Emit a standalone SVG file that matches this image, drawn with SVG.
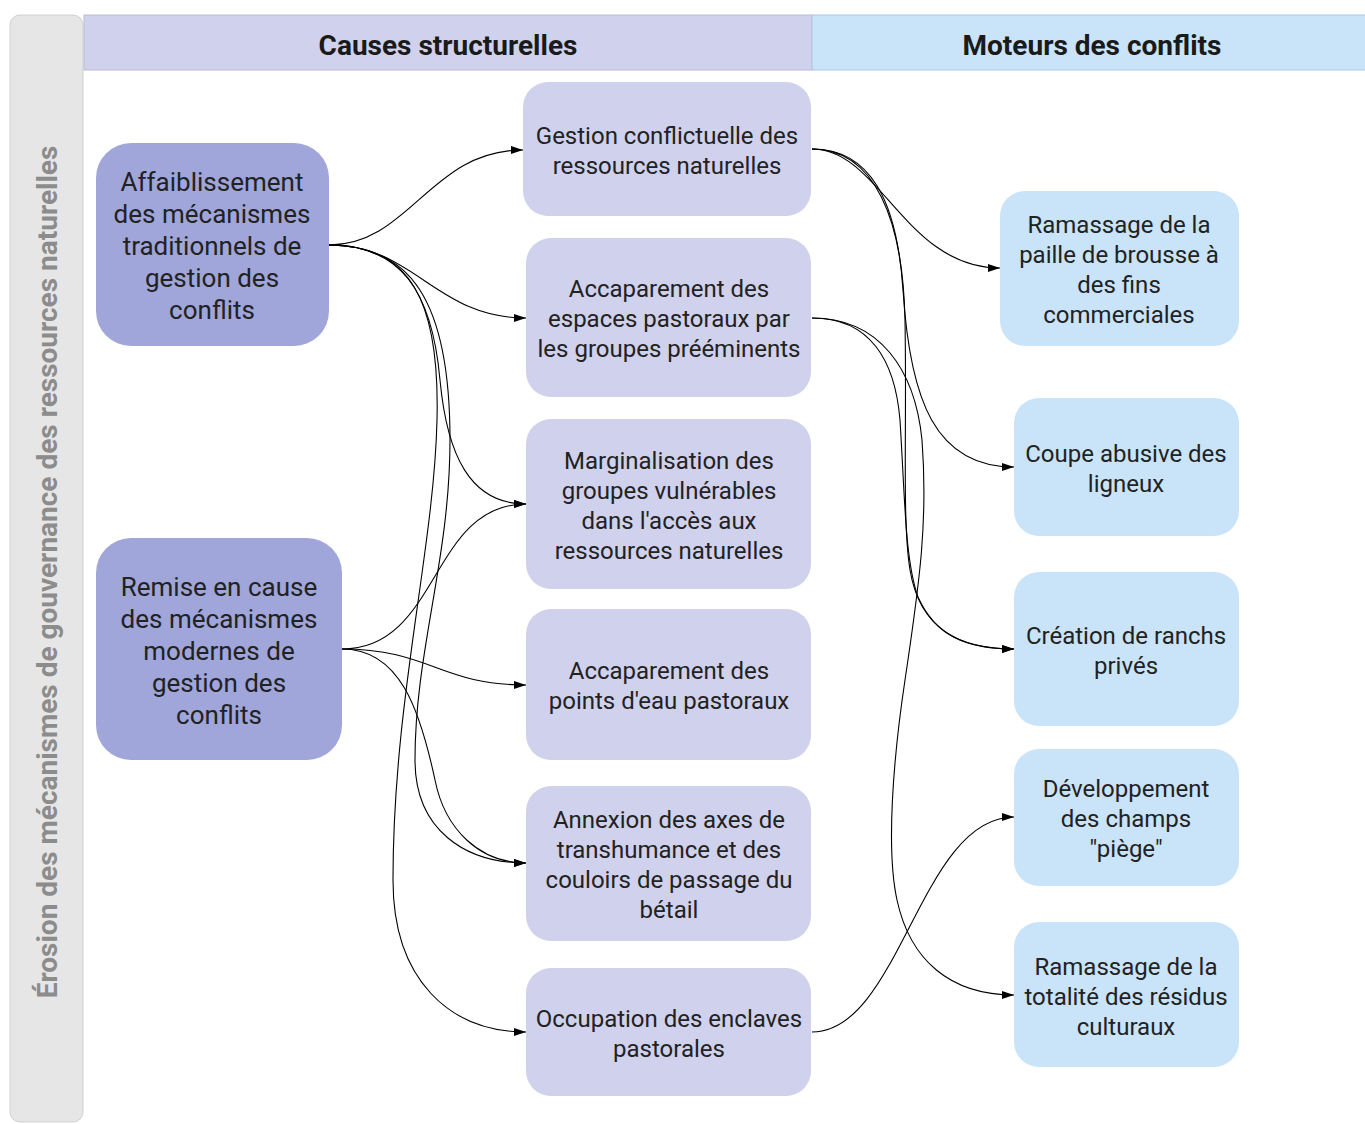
<svg xmlns="http://www.w3.org/2000/svg" width="1365" height="1124" viewBox="0 0 1365 1124">
<defs>
<marker id="arrow" viewBox="0 0 12 8" refX="12" refY="4" markerWidth="12" markerHeight="8" markerUnits="userSpaceOnUse" orient="auto">
<path d="M0,0 L12,4 L0,8 z" fill="#000"/>
</marker>
</defs>
<style>
text{font-family:Roboto,"Liberation Sans",sans-serif;fill:#222;text-anchor:middle}
.hdr{font-size:28px;font-weight:bold;fill:#1a1a1a}
.side{font-size:28px;font-weight:bold;fill:#8c8c8c}
.lt{font-size:26px}
.mt{font-size:24px}
.rt{font-size:24px}
.nl{fill:#a0a6d9}
.nm{fill:#d0d1ec}
.nr{fill:#c9e3f9}
.edge{fill:none;stroke:#000;stroke-width:1.1;marker-end:url(#arrow)}
</style>
<rect x="0" y="0" width="1365" height="1124" fill="#fff"/>
<g id="band">
<rect x="10" y="15" width="73" height="1107" rx="10" fill="#e6e6e6" stroke="#d0d0d0" stroke-width="1"/>
<text class="side" transform="translate(57,572) rotate(-90)">Érosion des mécanismes de gouvernance des ressources naturelles</text>
</g>
<g id="header-causes">
<rect x="84" y="15" width="728" height="55" fill="#d0d1ec" stroke="#b8bbd8" stroke-width="1"/>
<text class="hdr" x="448" y="55">Causes structurelles</text>
</g>
<g id="header-moteurs">
<rect x="812" y="15" width="560" height="55" fill="#c9e3f9" stroke="#aec8de" stroke-width="1"/>
<text class="hdr" x="1092" y="55">Moteurs des conflits</text>
</g>
<g id="edges">
<path class="edge" d="M329,245 C410,245 430,150 523,150"/>
<path class="edge" d="M329,245 C415,245 435,318 526,318"/>
<path class="edge" d="M329,245 C400,245 432,290 440,380 C447,455 470,504 526,504"/>
<path class="edge" d="M329,245 C410,245 450,300 450,440 C450,560 415,650 415,760 C415,830 465,863 526,863"/>
<path class="edge" d="M329,245 C410,245 440,300 437,420 C434,550 393,700 393,880 C393,980 450,1032 526,1032"/>
<path class="edge" d="M342,649 C440,649 430,504 526,504"/>
<path class="edge" d="M342,649 C430,649 440,685 526,685"/>
<path class="edge" d="M342,649 C400,649 420,710 435,780 C445,830 480,863 526,863"/>
<path class="edge" d="M812,149 C880,149 905,268 1000,268"/>
<path class="edge" d="M812,149 C870,149 897,200 903,290 C910,400 935,467 1014,467"/>
<path class="edge" d="M812,149 C875,149 903,220 905,320 C907,430 902,520 910,570 C920,630 960,649 1014,649"/>
<path class="edge" d="M812,318 C870,318 895,360 900,420 C905,500 905,560 918,597 C935,635 965,649 1014,649"/>
<path class="edge" d="M812,318 C880,318 915,370 922,440 C928,520 920,580 905,680 C893,760 886,850 897,900 C910,960 950,995 1014,995"/>
<path class="edge" d="M812,1032 C900,1032 920,817 1014,817"/>
</g>
<g id="n-affaiblissement">
<rect class="nl" x="96" y="143" width="233" height="203" rx="35"/>
<text class="lt" x="212" y="191">Affaiblissement</text>
<text class="lt" x="212" y="223">des mécanismes</text>
<text class="lt" x="212" y="255">traditionnels de</text>
<text class="lt" x="212" y="287">gestion des</text>
<text class="lt" x="212" y="319">conflits</text>
</g>
<g id="n-remise">
<rect class="nl" x="96" y="538" width="246" height="222" rx="35"/>
<text class="lt" x="219" y="596">Remise en cause</text>
<text class="lt" x="219" y="628">des mécanismes</text>
<text class="lt" x="219" y="660">modernes de</text>
<text class="lt" x="219" y="692">gestion des</text>
<text class="lt" x="219" y="724">conflits</text>
</g>
<g id="n-gestion">
<rect class="nm" x="523" y="82" width="288" height="134" rx="25"/>
<text class="mt" x="667" y="144">Gestion conflictuelle des</text>
<text class="mt" x="667" y="174">ressources naturelles</text>
</g>
<g id="n-accaparement-espaces">
<rect class="nm" x="526" y="238" width="285" height="159" rx="25"/>
<text class="mt" x="669" y="297">Accaparement des</text>
<text class="mt" x="669" y="327">espaces pastoraux par</text>
<text class="mt" x="669" y="357">les groupes prééminents</text>
</g>
<g id="n-marginalisation">
<rect class="nm" x="526" y="419" width="285" height="170" rx="25"/>
<text class="mt" x="669" y="469">Marginalisation des</text>
<text class="mt" x="669" y="499">groupes vulnérables</text>
<text class="mt" x="669" y="529">dans l'accès aux</text>
<text class="mt" x="669" y="559">ressources naturelles</text>
</g>
<g id="n-points-eau">
<rect class="nm" x="526" y="609" width="285" height="151" rx="25"/>
<text class="mt" x="669" y="679">Accaparement des</text>
<text class="mt" x="669" y="709">points d'eau pastoraux</text>
</g>
<g id="n-annexion">
<rect class="nm" x="526" y="786" width="285" height="155" rx="25"/>
<text class="mt" x="669" y="828">Annexion des axes de</text>
<text class="mt" x="669" y="858">transhumance et des</text>
<text class="mt" x="669" y="888">couloirs de passage du</text>
<text class="mt" x="669" y="918">bétail</text>
</g>
<g id="n-occupation">
<rect class="nm" x="526" y="968" width="285" height="128" rx="25"/>
<text class="mt" x="669" y="1027">Occupation des enclaves</text>
<text class="mt" x="669" y="1057">pastorales</text>
</g>
<g id="n-paille">
<rect class="nr" x="1000" y="191" width="239" height="155" rx="25"/>
<text class="rt" x="1119" y="233">Ramassage de la</text>
<text class="rt" x="1119" y="263">paille de brousse à</text>
<text class="rt" x="1119" y="293">des fins</text>
<text class="rt" x="1119" y="323">commerciales</text>
</g>
<g id="n-coupe">
<rect class="nr" x="1014" y="398" width="225" height="138" rx="25"/>
<text class="rt" x="1126" y="462">Coupe abusive des</text>
<text class="rt" x="1126" y="492">ligneux</text>
</g>
<g id="n-ranchs">
<rect class="nr" x="1014" y="572" width="225" height="154" rx="25"/>
<text class="rt" x="1126" y="644">Création de ranchs</text>
<text class="rt" x="1126" y="674">privés</text>
</g>
<g id="n-champs">
<rect class="nr" x="1014" y="749" width="225" height="137" rx="25"/>
<text class="rt" x="1126" y="797">Développement</text>
<text class="rt" x="1126" y="827">des champs</text>
<text class="rt" x="1126" y="857">"piège"</text>
</g>
<g id="n-residus">
<rect class="nr" x="1014" y="922" width="225" height="145" rx="25"/>
<text class="rt" x="1126" y="975">Ramassage de la</text>
<text class="rt" x="1126" y="1005">totalité des résidus</text>
<text class="rt" x="1126" y="1035">culturaux</text>
</g>
</svg>
